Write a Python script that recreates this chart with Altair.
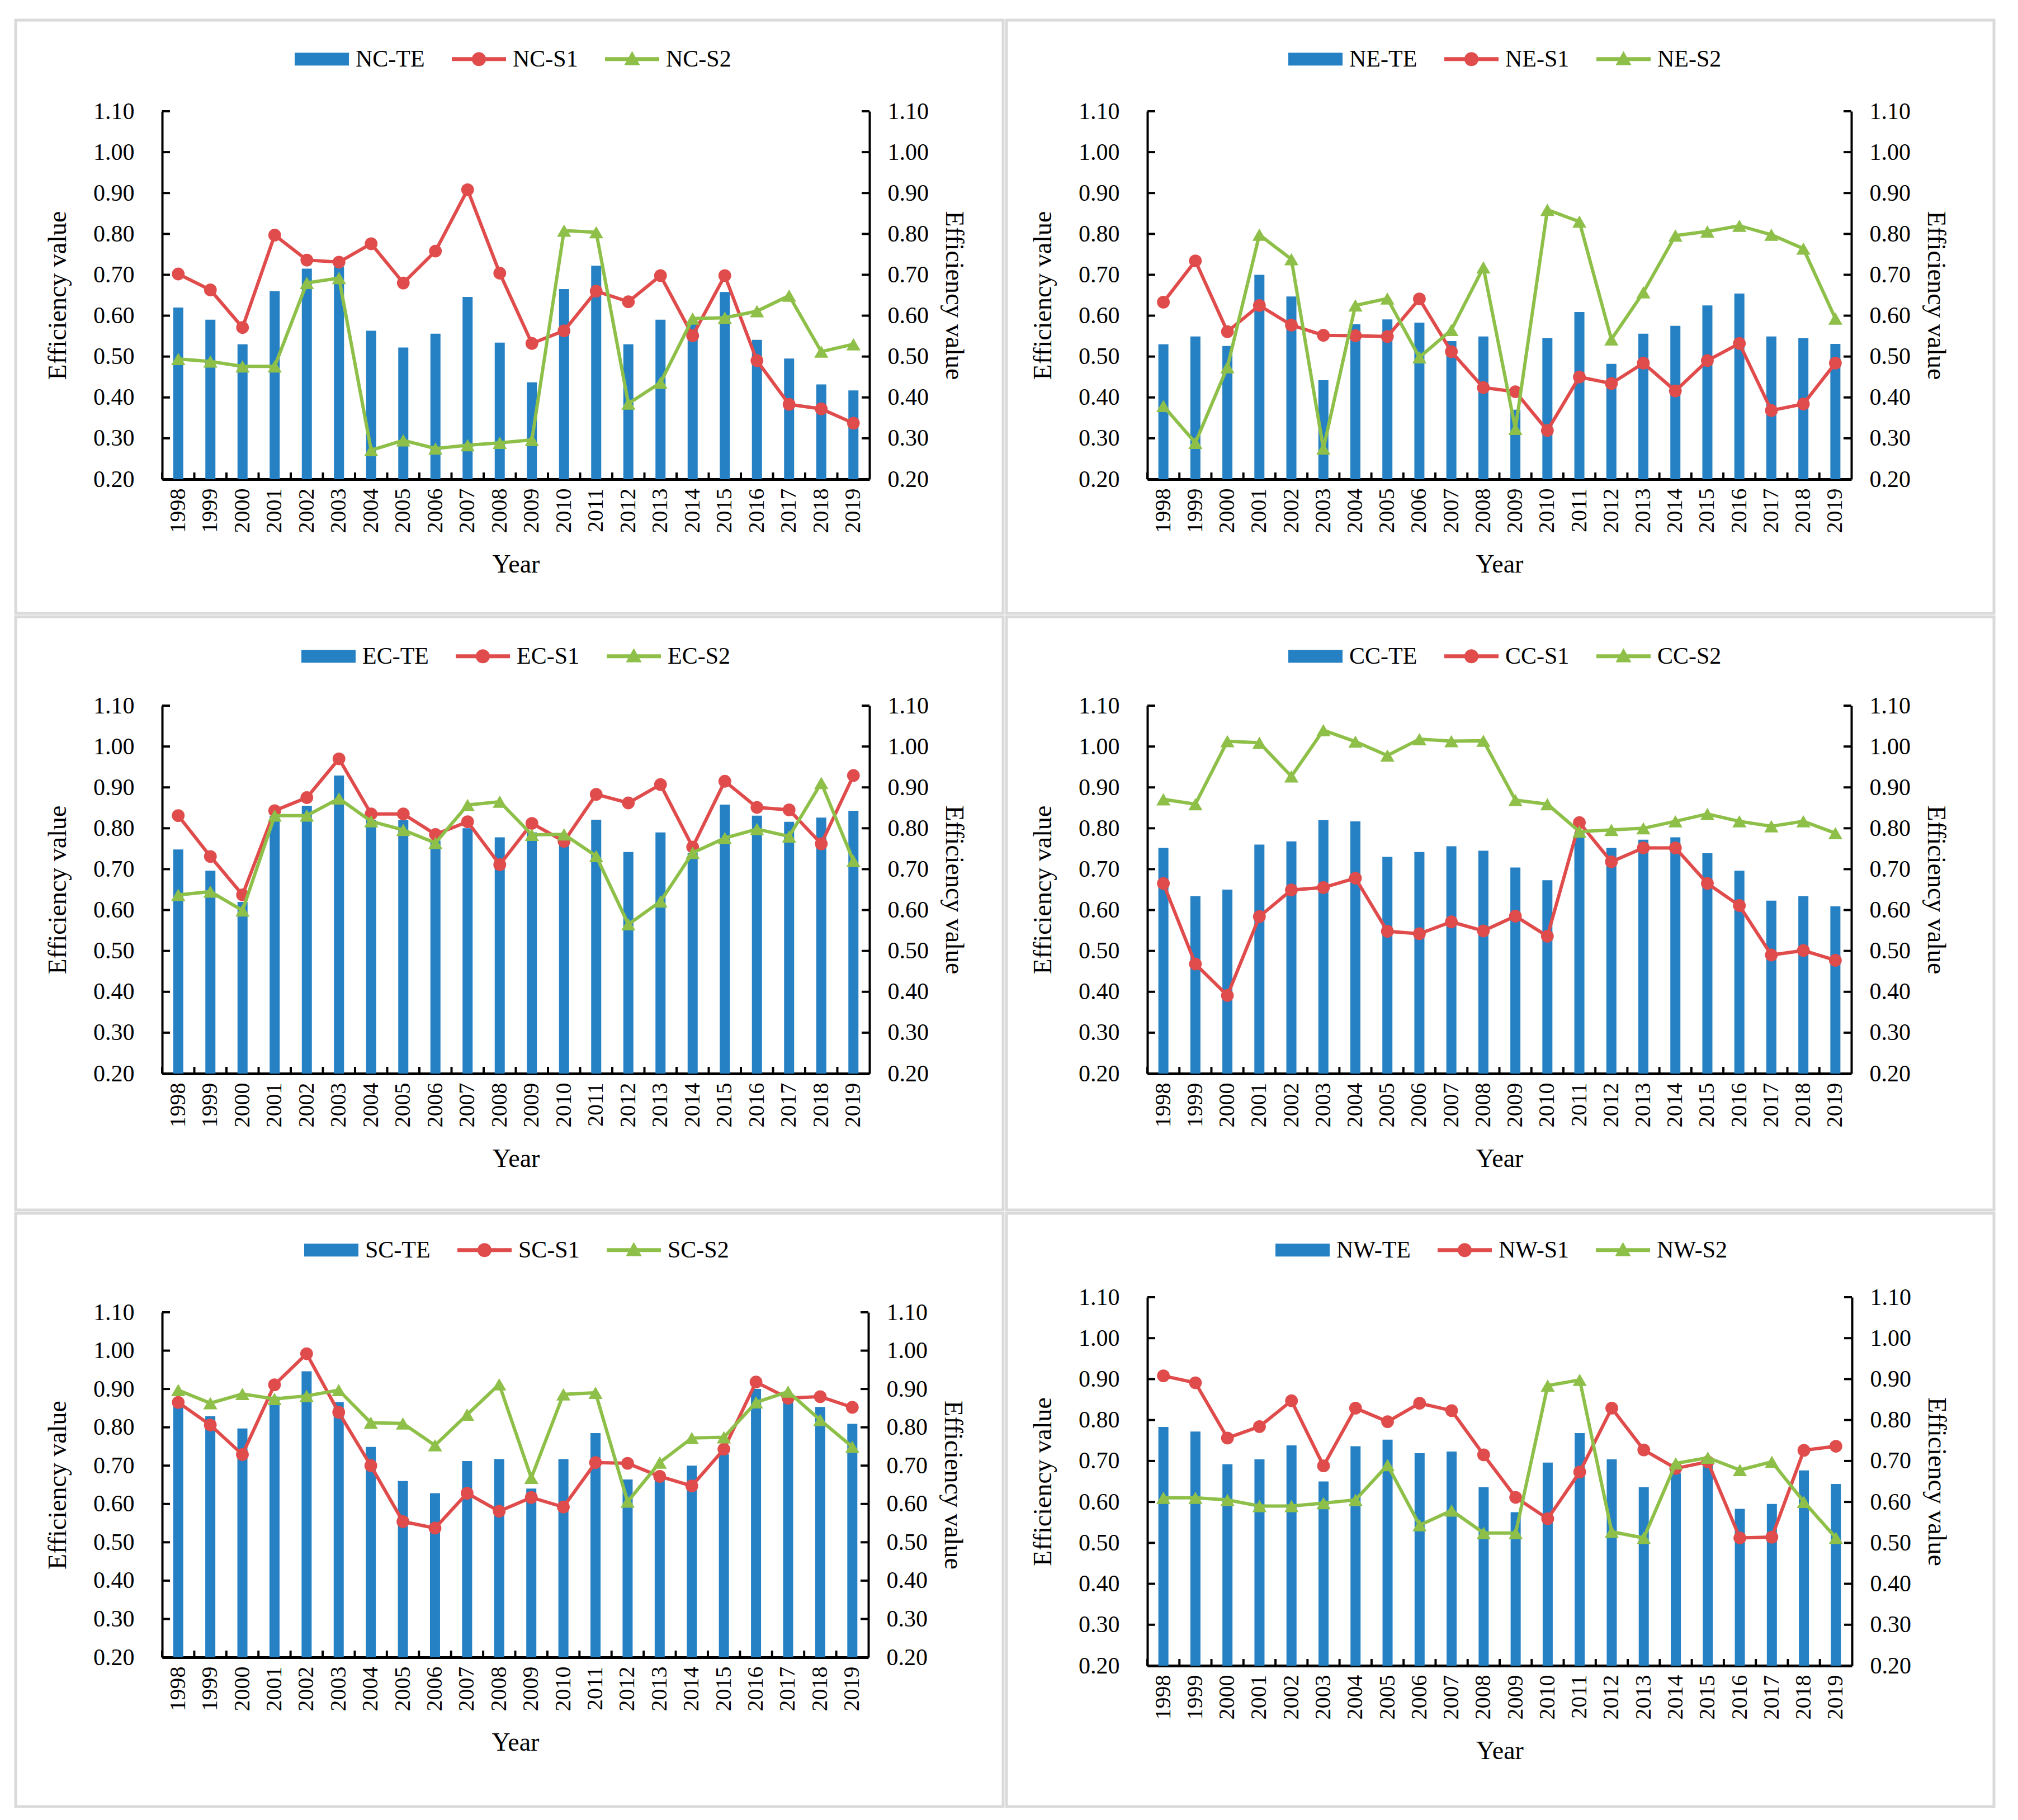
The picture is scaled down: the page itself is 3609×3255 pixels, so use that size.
import altair as alt
import pandas as pd

YEARS = [str(y) for y in range(1998, 2020)]
TICK_VALUES = [0.2, 0.3, 0.4, 0.5, 0.6, 0.7, 0.8, 0.9, 1.0, 1.1]

NC_TE = [0.62, 0.59, 0.53, 0.66, 0.715, 0.72, 0.563, 0.522, 0.556, 0.646, 0.534, 0.437, 0.665, 0.722, 0.53, 0.59, 0.58, 0.658, 0.541, 0.495, 0.432, 0.417]
NC_S1 = [0.702, 0.663, 0.571, 0.797, 0.736, 0.731, 0.776, 0.68, 0.758, 0.908, 0.704, 0.532, 0.563, 0.66, 0.634, 0.698, 0.551, 0.698, 0.49, 0.383, 0.372, 0.337]
NC_S2 = [0.494, 0.488, 0.476, 0.476, 0.68, 0.692, 0.271, 0.295, 0.275, 0.283, 0.289, 0.296, 0.808, 0.804, 0.385, 0.436, 0.593, 0.595, 0.611, 0.649, 0.512, 0.53]

NE_TE = [0.53, 0.549, 0.526, 0.70, 0.647, 0.442, 0.579, 0.591, 0.583, 0.538, 0.549, 0.37, 0.545, 0.609, 0.482, 0.556, 0.575, 0.625, 0.654, 0.549, 0.545, 0.531]
NE_S1 = [0.633, 0.734, 0.561, 0.625, 0.577, 0.552, 0.551, 0.549, 0.641, 0.512, 0.424, 0.414, 0.319, 0.45, 0.434, 0.484, 0.416, 0.49, 0.532, 0.368, 0.384, 0.484]
NE_S2 = [0.379, 0.289, 0.474, 0.798, 0.738, 0.275, 0.625, 0.642, 0.498, 0.565, 0.718, 0.323, 0.859, 0.83, 0.542, 0.657, 0.796, 0.806, 0.82, 0.798, 0.764, 0.593]

EC_TE = [0.748, 0.696, 0.62, 0.83, 0.855, 0.929, 0.82, 0.82, 0.77, 0.80, 0.778, 0.79, 0.77, 0.821, 0.742, 0.79, 0.74, 0.858, 0.831, 0.816, 0.826, 0.843]
EC_S1 = [0.831, 0.731, 0.637, 0.843, 0.875, 0.97, 0.835, 0.835, 0.785, 0.816, 0.711, 0.812, 0.768, 0.883, 0.862, 0.907, 0.754, 0.915, 0.851, 0.845, 0.762, 0.929]
EC_S2 = [0.637, 0.645, 0.599, 0.831, 0.831, 0.873, 0.817, 0.796, 0.764, 0.857, 0.865, 0.784, 0.785, 0.732, 0.565, 0.621, 0.74, 0.776, 0.798, 0.78, 0.911, 0.72]

CC_TE = [0.752, 0.634, 0.65, 0.76, 0.768, 0.82, 0.817, 0.73, 0.742, 0.756, 0.745, 0.704, 0.673, 0.79, 0.752, 0.772, 0.778, 0.739, 0.696, 0.623, 0.634, 0.609]
CC_S1 = [0.665, 0.468, 0.391, 0.584, 0.649, 0.655, 0.678, 0.548, 0.542, 0.571, 0.549, 0.585, 0.536, 0.814, 0.718, 0.752, 0.752, 0.665, 0.611, 0.49, 0.501, 0.477]
CC_S2 = [0.871, 0.859, 1.013, 1.009, 0.927, 1.04, 1.012, 0.978, 1.018, 1.013, 1.014, 0.869, 0.859, 0.792, 0.796, 0.80, 0.817, 0.835, 0.817, 0.805, 0.817, 0.788]

SC_TE = [0.86, 0.829, 0.797, 0.88, 0.946, 0.866, 0.749, 0.66, 0.628, 0.712, 0.717, 0.64, 0.717, 0.785, 0.664, 0.67, 0.70, 0.73, 0.90, 0.88, 0.853, 0.809]
SC_S1 = [0.865, 0.806, 0.729, 0.911, 0.992, 0.839, 0.70, 0.554, 0.537, 0.628, 0.581, 0.617, 0.592, 0.708, 0.706, 0.672, 0.647, 0.743, 0.918, 0.876, 0.88, 0.852]
SC_S2 = [0.897, 0.863, 0.887, 0.874, 0.882, 0.897, 0.812, 0.81, 0.753, 0.833, 0.912, 0.668, 0.886, 0.89, 0.606, 0.708, 0.772, 0.774, 0.865, 0.893, 0.819, 0.749]

NW_TE = [0.783, 0.772, 0.692, 0.704, 0.738, 0.65, 0.736, 0.752, 0.719, 0.723, 0.636, 0.575, 0.696, 0.768, 0.704, 0.636, 0.67, 0.70, 0.583, 0.595, 0.677, 0.644]
NW_S1 = [0.908, 0.891, 0.756, 0.784, 0.847, 0.688, 0.829, 0.796, 0.841, 0.823, 0.715, 0.611, 0.559, 0.673, 0.829, 0.727, 0.682, 0.698, 0.512, 0.514, 0.726, 0.736]
NW_S2 = [0.61, 0.61, 0.605, 0.59, 0.59, 0.597, 0.605, 0.69, 0.543, 0.579, 0.524, 0.524, 0.884, 0.898, 0.527, 0.512, 0.694, 0.708, 0.678, 0.698, 0.60, 0.512]

REGIONS = [
    ("NC", NC_TE, NC_S1, NC_S2),
    ("NE", NE_TE, NE_S1, NE_S2),
    ("EC", EC_TE, EC_S1, EC_S2),
    ("CC", CC_TE, CC_S1, CC_S2),
    ("SC", SC_TE, SC_S1, SC_S2),
    ("NW", NW_TE, NW_S1, NW_S2),
]

# layout (pixels): every panel frame is PANEL_W x PANEL_H;
# plot origin sits at (l, t) inside the frame; legend centre lc below the frame top
PANEL_W, PANEL_H = 1766, 1061
GEOM = {
    "NC": dict(w=1265, h=658, l=262, t=163, lx=237, lc=69),
    "NE": dict(w=1259, h=658, l=252, t=163, lx=252, lc=69),
    "EC": dict(w=1265, h=658, l=262, t=159, lx=249, lc=70),
    "CC": dict(w=1259, h=658, l=252, t=159, lx=252, lc=70),
    "SC": dict(w=1263, h=617, l=262, t=177, lx=254, lc=65),
    "NW": dict(w=1260, h=659, l=252, t=150, lx=229, lc=65),
}

BLUE, RED, GREEN = "#2581C4", "#E04B4B", "#8EC049"
FONT = "Liberation Serif"

PATH_BAR = "M-1,-0.237H1V0.237H-1Z"
PATH_CIRCLE = ("M-1,-0.07H1V0.07H-1Z "
               "M0.26,0A0.26,0.26 0 1,1 -0.26,0A0.26,0.26 0 1,1 0.26,0Z")
PATH_TRI = "M-1,-0.07H1V0.07H-1Z M0,-0.3L0.29,0.22L-0.29,0.22Z"


def panel(code, te, s1, s2):
    g = GEOM[code]
    W, H = g["w"], g["h"]
    df = pd.DataFrame({"year": YEARS, "TE": te, "S1": s1, "S2": s2,
                       "base": [0.2] * len(YEARS)})
    ticks_df = pd.DataFrame({"v": TICK_VALUES})
    years_df = pd.DataFrame({"year": YEARS})
    labels = [f"{code}-TE", f"{code}-S1", f"{code}-S2"]
    leg_df = pd.DataFrame({"series": labels})

    yscale = alt.Scale(domain=[0.2, 1.1], zero=False, nice=False)
    xaxis = alt.Axis(title="Year", labelAngle=270, ticks=False, grid=False,
                     labelFont=FONT, labelFontSize=40, labelColor="black",
                     labelPadding=16, titleFont=FONT, titleFontSize=46,
                     titleFontWeight="normal", titleColor="black",
                     titlePadding=34, domainColor="black", domainWidth=5)
    xscale = alt.Scale(paddingInner=0, paddingOuter=0)

    def X(**kw):
        return alt.X("year:O", sort=YEARS, scale=xscale, axis=xaxis, **kw)

    left_axis = alt.Axis(title="Efficiency value", values=TICK_VALUES,
                         format=".2f", ticks=False, grid=False,
                         labelFont=FONT, labelFontSize=42, labelColor="black",
                         labelPadding=50, titleFont=FONT, titleFontSize=46,
                         titleFontWeight="normal", titleColor="black",
                         titlePadding=39, domainColor="black", domainWidth=4)
    right_axis = alt.Axis(title="Efficiency value", values=TICK_VALUES,
                          orient="right", format=".2f", ticks=False, grid=False,
                          labelFont=FONT, labelFontSize=42, labelColor="black",
                          labelPadding=32, titleFont=FONT, titleFontSize=46,
                          titleFontWeight="normal", titleColor="black",
                          titlePadding=21, domainColor="black", domainWidth=4)

    frame = alt.Chart(pd.DataFrame({"k": [0]})).mark_rect(
        fillOpacity=0, stroke="#DADADA", strokeWidth=5
    ).encode(x=alt.value(-g["l"]), x2=alt.value(PANEL_W - g["l"]),
             y=alt.value(-g["t"]), y2=alt.value(PANEL_H - g["t"]))

    bars = alt.Chart(df).mark_bar(size=18, color=BLUE).encode(
        x=X(), y=alt.Y("TE:Q", scale=yscale, axis=left_axis),
        y2=alt.Y2("base:Q"))

    ytick_l = alt.Chart(ticks_df).mark_rule(color="black", strokeWidth=4).encode(
        y=alt.Y("v:Q", scale=yscale, axis=None),
        x=alt.value(0), x2=alt.value(14))
    ytick_r = alt.Chart(ticks_df).mark_rule(color="black", strokeWidth=4).encode(
        y=alt.Y("v:Q", scale=yscale, axis=None),
        x=alt.value(W - 14), x2=alt.value(W))
    xtick = alt.Chart(years_df).mark_rule(color="black", strokeWidth=4).encode(
        x=X(bandPosition=0), y=alt.value(H - 12), y2=alt.value(H))

    line1 = alt.Chart(df).mark_line(color=RED, strokeWidth=6).encode(
        x=X(), y=alt.Y("S1:Q", scale=yscale, axis=right_axis))
    pts1 = alt.Chart(df).mark_point(filled=True, shape="circle", size=520,
                                    color=RED, opacity=1).encode(
        x=X(), y=alt.Y("S1:Q", scale=yscale, axis=None))
    line2 = alt.Chart(df).mark_line(color=GREEN, strokeWidth=6).encode(
        x=X(), y=alt.Y("S2:Q", scale=yscale, axis=None))
    pts2 = alt.Chart(df).mark_point(filled=True, shape="triangle-up", size=640,
                                    color=GREEN, opacity=1).encode(
        x=X(), y=alt.Y("S2:Q", scale=yscale, axis=None))

    leg = alt.Legend(title=None, orient="none", legendX=g["lx"],
                     legendY=g["lc"] - g["t"] - 48, direction="horizontal",
                     columns=3, symbolSize=9409, symbolStrokeWidth=0,
                     symbolOpacity=1, labelFont=FONT, labelFontSize=42,
                     labelColor="black", labelOffset=12, columnPadding=48)
    legend_layer = alt.Chart(leg_df).transform_filter("false").mark_point(
        filled=True, opacity=1).encode(
        color=alt.Color("series:N", scale=alt.Scale(domain=labels, range=[BLUE, RED, GREEN]), legend=leg),
        shape=alt.Shape("series:N", scale=alt.Scale(domain=labels, range=[PATH_BAR, PATH_CIRCLE, PATH_TRI]), legend=leg))

    return alt.layer(frame, bars, ytick_l, ytick_r, xtick, line1, pts1,
                     line2, pts2, legend_layer).resolve_scale(
        y="independent").properties(width=W, height=H)


panels = [panel(*r) for r in REGIONS]

chart = alt.concat(*panels, columns=2, spacing=0, align="none").resolve_scale(
    color="independent", shape="independent").resolve_legend(
    color="independent", shape="independent").properties(
    padding={"left": 17, "top": 25, "right": 5, "bottom": 5},
    background="white").configure_view(stroke=None)

chart.save("out.html", embed_options={"renderer": "svg", "actions": False})
